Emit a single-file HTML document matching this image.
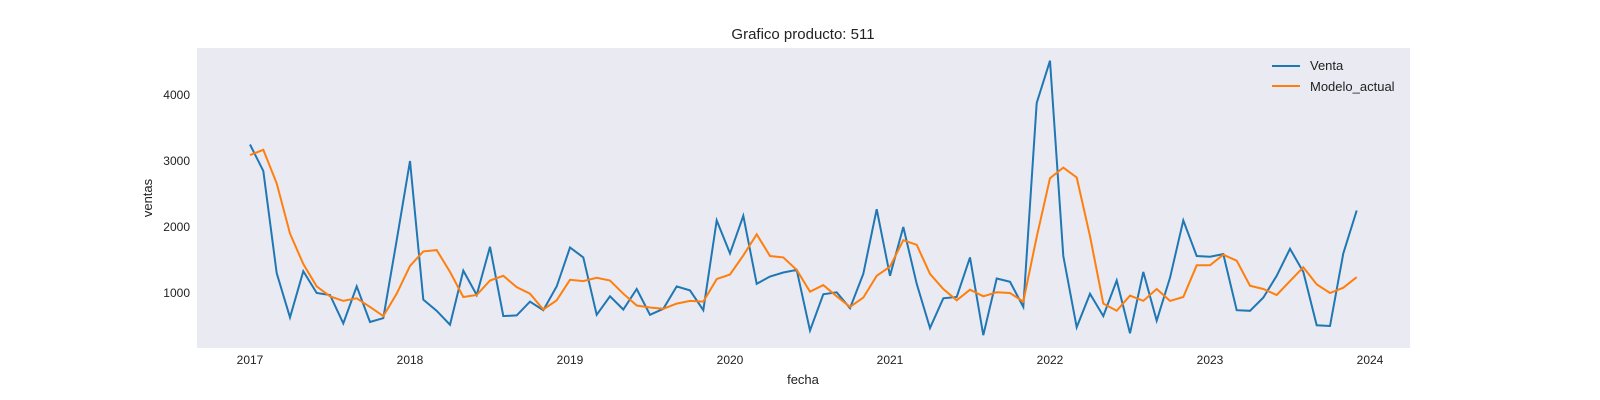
<!DOCTYPE html>
<html><head><meta charset="utf-8"><style>
html,body{margin:0;padding:0;background:#fff;overflow:hidden;width:1600px;height:400px}
svg{display:block}
svg text{font-family:"Liberation Sans",sans-serif;fill:#222}
</style></head><body>
<svg width="1600" height="400">
<rect x="197" y="48" width="1213" height="300" fill="#eaeaf2"/>
<text x="803" y="39" text-anchor="middle" font-size="15">Grafico producto: 511</text>
<text x="803" y="384" text-anchor="middle" font-size="13">fecha</text>
<text transform="translate(152,198) rotate(-90)" text-anchor="middle" font-size="13">ventas</text>
<g id="ticks"></g>
<g id="series"></g>
<g>
<line x1="1272" y1="66" x2="1300" y2="66" stroke="#1f77b4" stroke-width="2"/>
<text x="1310" y="70" font-size="13">Venta</text>
<line x1="1272" y1="86" x2="1300" y2="86" stroke="#ff7f0e" stroke-width="2"/>
<text x="1310" y="91" font-size="13">Modelo_actual</text>
</g>
</svg>
<script>
const years=[2017,2018,2019,2020,2021,2022,2023,2024];
const yTicks=[1000,2000,3000,4000];
const venta=[3250,2850,1300,630,1330,1000,970,540,1100,560,620,1800,
3000,900,730,520,1340,970,1700,650,660,870,740,1100,
1690,1540,670,950,750,1060,670,760,1100,1040,740,2100,
1600,2170,1140,1250,1310,1350,430,980,1010,770,1290,2270,
1260,2000,1140,470,920,940,1540,360,1220,1170,790,3880,
4520,1560,480,990,650,1190,390,1320,580,1230,2100,1560,
1550,1590,740,730,930,1260,1670,1320,510,500,1600,2250];
const modelo=[3090,3170,2660,1900,1440,1100,950,880,920,790,650,990,
1410,1630,1650,1320,940,970,1190,1260,1090,990,750,890,
1200,1180,1230,1190,990,810,780,760,840,880,870,1210,
1280,1570,1890,1560,1540,1350,1020,1120,950,790,930,1260,
1400,1800,1730,1290,1060,890,1050,950,1010,1000,870,1850,
2740,2900,2750,1860,840,730,960,880,1060,880,940,1420,
1420,1580,1490,1110,1060,970,1180,1390,1130,1000,1080,1240];
const NS="http://www.w3.org/2000/svg";
function xs(i){return 250+i*(1370-250)/84;}
function ys(v){return 359-v*0.066;}
const tg=document.getElementById('ticks');
years.forEach((y,k)=>{const t=document.createElementNS(NS,'text');
t.setAttribute('x',xs(k*12));t.setAttribute('y',364);t.setAttribute('text-anchor','middle');t.setAttribute('font-size','12');


t.textContent=y;tg.appendChild(t);});
yTicks.forEach(v=>{const t=document.createElementNS(NS,'text');
t.setAttribute('x',190);t.setAttribute('y',ys(v)+4);t.setAttribute('text-anchor','end');t.setAttribute('font-size','12');


t.textContent=v;tg.appendChild(t);});
const sg=document.getElementById('series');
[[venta,'#1f77b4','venta-line'],[modelo,'#ff7f0e','modelo-actual-line']].forEach(([d,c,n])=>{
const p=document.createElementNS(NS,'polyline');
p.setAttribute('points',d.map((v,i)=>xs(i).toFixed(1)+','+ys(v).toFixed(1)).join(' '));
p.setAttribute('fill','none');p.setAttribute('stroke',c);p.setAttribute('stroke-width','2');


sg.appendChild(p);});
</script>
</body></html>
